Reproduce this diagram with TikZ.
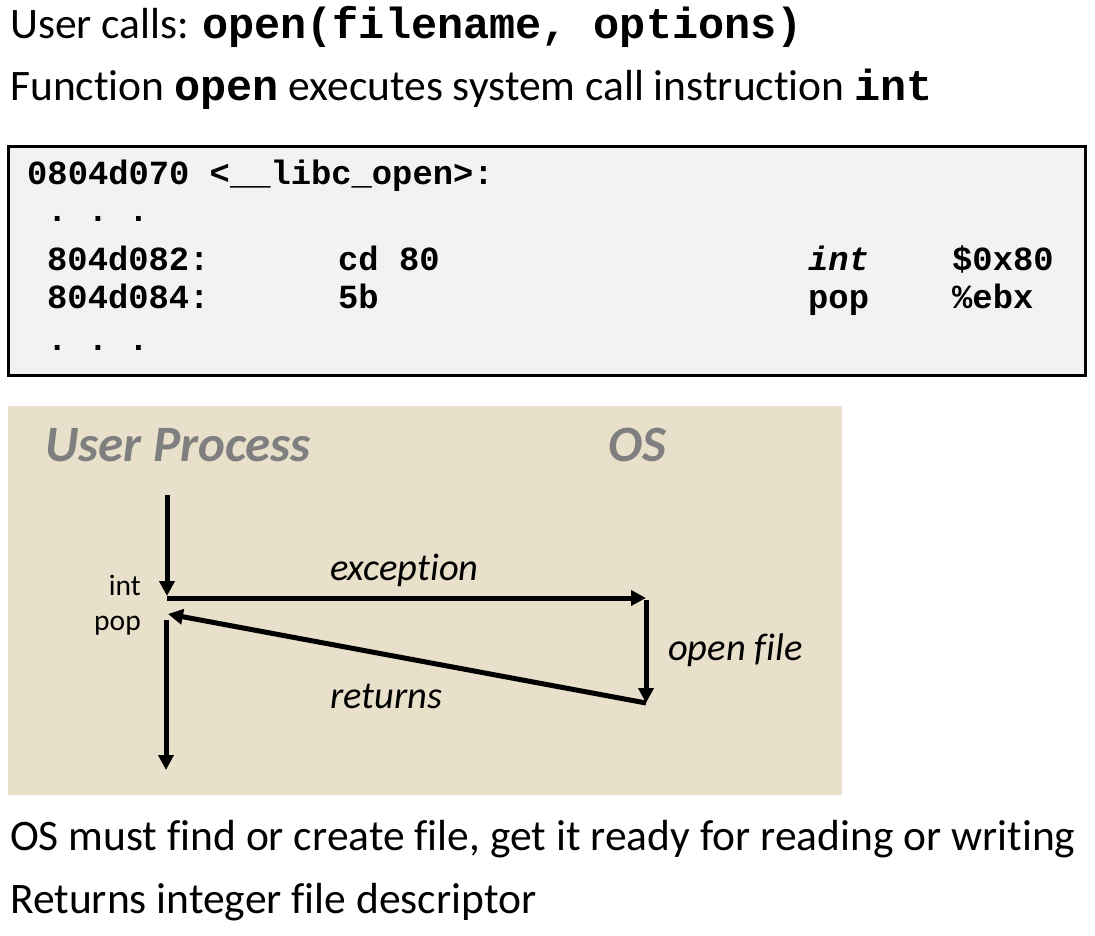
\documentclass[tikz,border=0pt]{standalone}
\usepackage{fontspec}
\setmainfont[Ligatures=NoCommon]{Carlito}
\setmonofont{Liberation Mono}
\usetikzlibrary{arrows.meta}
\usetikzlibrary{positioning}
\definecolor{panel}{HTML}{E8E0CA}
\definecolor{codebg}{HTML}{F2F2F2}
\definecolor{headgray}{HTML}{7F7F7F}

\begin{document}
\begin{tikzpicture}[x=1pt,y=-1pt,
	txt/.style={anchor=base west,inner sep=0pt,font=\fontsize{43.5}{50}\selectfont},
	code/.style={anchor=base west,inner sep=0pt,font=\fontsize{33.8}{40}\selectfont\ttfamily\bfseries},
	head/.style={anchor=base west,inner sep=0pt,text=headgray,font=\fontsize{51}{60}\selectfont\bfseries\itshape},
	lbl/.style={anchor=base west,inner sep=0pt,font=\fontsize{38.5}{46}\selectfont\itshape},
	small/.style={anchor=base east,inner sep=0pt,font=\fontsize{29.5}{34}\selectfont},
	flow/.style={line width=5pt,-{Triangle[length=15pt,width=15pt]}}]
	\useasboundingbox (0,0) rectangle (1095,936);
	% boxes
	\draw[fill=codebg,line width=3pt] (8,147) rectangle (1085,375);
	\fill[panel] (8,406) rectangle (842,795);

	% text
	\node[txt] (calls) at (10,39) {User calls: \texttt{\bfseries open(filename, options)}};
	\node[txt] (func) at (10,101) {Function \texttt{\bfseries open} executes system call instruction \texttt{\bfseries int}};
	\node[txt] (find) at (10,850) {OS must find or create file, get it ready for reading or writing};
	\node[txt] (ret) at (10,913) {Returns integer file descriptor};

	% code
	\node[code] (sym) at (27,185) {0804d070 <\_\_libc\_open>:};
	\node[code] (dots0) at (47,222) {.\ .\ .};
	\node[code] (addr0) at (47,270) {804d082:};
	\node[code] (byte0) at (338,270) {cd 80};
	\node[code] (op0) at (808,270) {\itshape int};
	\node[code] (arg0) at (952,270) {\$0x80};
	\node[code] (addr1) at (47,308) {804d084:};
	\node[code] (byte1) at (338,308) {5b};
	\node[code] (op1) at (808,308) {pop};
	\node[code] (arg1) at (952,308) {\%ebx};
	\node[code] (dots1) at (47,350) {.\ .\ .};

	% panel
	\node[head] (user) at (45,461) {User Process};
	\node[head] (os) at (608,461) {OS};
	\node[small] (int) at (141,595) {int};
	\node[small] (pop) at (141,630) {pop};
	\node[lbl] (exc) at (330,580) {exception};
	\node[lbl] (open) at (668,660) {open file};
	\node[lbl] (rets) at (330,708) {returns};

	\coordinate (top) at (167,495);
	\coordinate (trap) at (167,596);
	\coordinate (trapr) at (167,598);
	\coordinate (osin) at (646,598);
	\coordinate (osbeg) at (646,600);
	\coordinate (osend) at (646,703);
	\coordinate (back) at (168,614);
	\coordinate (cont) at (166,620);
	\coordinate (bottom) at (166,770);

	% edges
	\draw[flow] (top) -- (trap);
	\draw[flow] (trapr) -- (osin);
	\draw[flow] (osbeg) -- (osend);
	\draw[flow] (osend) -- (back);
	\draw[flow] (cont) -- (bottom);
\end{tikzpicture}
\end{document}
